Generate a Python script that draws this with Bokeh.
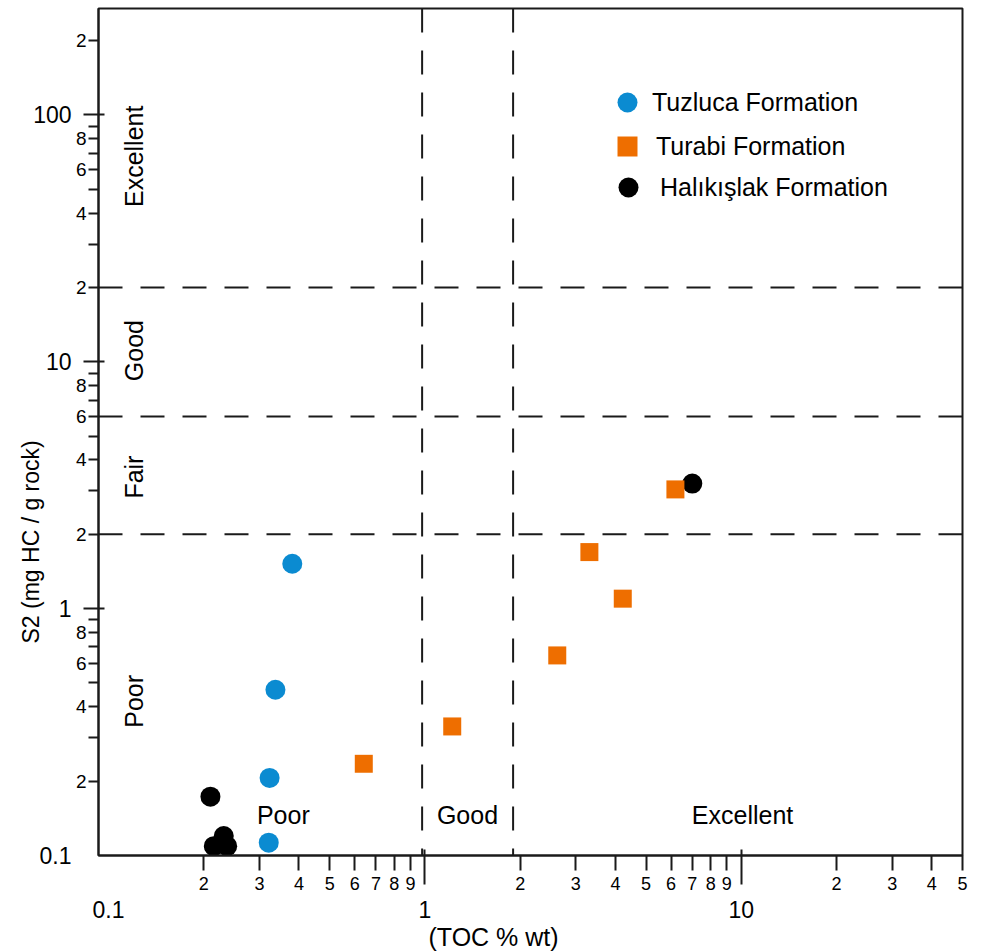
from math import pi

from bokeh.plotting import figure
from bokeh.models import (LogAxis, FixedTicker, Span, Label, Legend, LegendItem,
                          Range1d, Title)
from bokeh.embed import file_html
from bokeh.resources import INLINE

# Rock-Eval pyrolysis results: TOC (wt %) against S2 (mg HC / g rock)
tuzluca_toc = [0.381, 0.337, 0.323, 0.321]
tuzluca_s2 = [1.52, 0.469, 0.206, 0.1126]

turabi_toc = [0.641, 1.22, 2.62, 4.22, 3.31, 6.19]
turabi_s2 = [0.235, 0.333, 0.646, 1.097, 1.694, 3.04]

halikislak_toc = [0.210, 0.2314, 0.2152, 0.2372, 7.00]
halikislak_s2 = [0.173, 0.1197, 0.109, 0.109, 3.21]

# source-rock potential class boundaries
toc_limits = [0.98, 1.9]
s2_limits = [2, 6, 20]

# TOC axis: labelled intermediate ticks, long decade ticks, decade labels
x_ticks = [0.2, 0.3, 0.4, 0.5, 0.6, 0.7, 0.8, 0.9,
           2, 3, 4, 5, 6, 7, 8, 9,
           20, 30, 40, 50]
x_tick_labels = ["2", "3", "4", "5", "6", "7", "8", "9",
                 "2", "3", "4", "5", "6", "7", "8", "9",
                 "2", "3", "4", "5"]
x_long_ticks = [1, 10]
x_decades = [0.1, 1, 10]
x_decade_labels = ["0.1", "1", "10"]

# S2 axis
y_ticks = [0.2, 0.3, 0.4, 0.5, 0.6, 0.7, 0.8, 0.9,
           2, 3, 4, 5, 6, 7, 8, 9,
           20, 30, 40, 50, 60, 70, 80, 90,
           200]
y_tick_labels = ["2", "", "4", "", "6", "", "8", "",
                 "2", "", "4", "", "6", "", "8", "",
                 "2", "", "4", "", "6", "", "8", "",
                 "2"]
y_long_ticks = [1, 10, 100]
y_decades = [0.1, 1, 10, 100]
y_decade_labels = ["0.1", "1", "10", "100"]

FONT = "Liberation Sans"
INK = "#1a1a1a"

p = figure(width=987, height=952, x_axis_type="log", y_axis_type="log",
           x_range=Range1d(0.093, 50), y_range=Range1d(0.0999, 270),
           output_backend="svg", toolbar_location=None, tools="",
           min_border_left=98, min_border_right=25,
           min_border_top=8, min_border_bottom=97)
p.xgrid.visible = False
p.ygrid.visible = False
p.outline_line_color = INK
p.outline_line_width = 2
p.background_fill_color = "white"
p.border_fill_color = "white"


def style_line(a):
    a.axis_line_width = 2
    a.axis_line_color = INK
    a.major_tick_line_width = 2
    a.major_tick_line_color = INK
    a.minor_tick_line_width = 2
    a.minor_tick_line_color = INK


# inner axes: short labelled ticks
xa = p.xaxis[0]
xa.ticker = FixedTicker(ticks=x_ticks, minor_ticks=[])
xa.major_label_overrides = dict(zip(x_ticks, x_tick_labels))
xa.major_tick_out = 15
xa.major_tick_in = 0
xa.major_label_standoff = 6
xa.major_label_text_font = FONT
xa.major_label_text_font_size = "18px"
xa.major_label_text_color = "black"
style_line(xa)

ya = p.yaxis[0]
ya.ticker = FixedTicker(ticks=y_ticks, minor_ticks=[])
ya.major_label_overrides = dict(zip(y_ticks, y_tick_labels))
ya.major_tick_out = 10
ya.major_tick_in = 0
ya.major_label_standoff = 2
ya.major_label_text_font = FONT
ya.major_label_text_font_size = "19px"
ya.major_label_text_color = "black"
style_line(ya)

# outer axes: decade numbers, with the long decade ticks reaching back
# across the inner axis to the frame
xo = LogAxis(ticker=FixedTicker(ticks=x_decades, minor_ticks=x_long_ticks))
xo.major_label_overrides = dict(zip(x_decades, x_decade_labels))
xo.minor_tick_in = 43
xo.minor_tick_out = -8
xo.major_label_standoff = 8

yo = LogAxis(ticker=FixedTicker(ticks=y_decades, minor_ticks=y_long_ticks))
yo.major_label_overrides = dict(zip(y_decades, y_decade_labels))
yo.minor_tick_in = 32
yo.minor_tick_out = -11
yo.major_label_standoff = 1

for a in (xo, yo):
    style_line(a)
    a.axis_line_color = None
    a.major_tick_line_color = None
    a.major_tick_in = 0
    a.major_tick_out = 0
    a.major_label_text_font = FONT
    a.major_label_text_font_size = "23px"
    a.major_label_text_color = "black"
p.add_layout(xo, "below")
p.add_layout(yo, "left")

# axis titles
p.add_layout(Title(text="(TOC % wt)", align="left", offset=330, standoff=1,
                   text_font=FONT, text_font_size="25px",
                   text_font_style="normal", text_color="black"), "below")
p.add_layout(Title(text="S2 (mg HC / g rock)", align="left", offset=212,
                   standoff=-26, text_font=FONT, text_font_size="23px",
                   text_font_style="normal", text_color="black"), "left")

# class boundaries
for v in toc_limits:
    p.add_layout(Span(location=v, dimension="height", line_color=INK,
                      line_width=2, line_dash="24 18"))
for v in s2_limits:
    p.add_layout(Span(location=v, dimension="width", line_color=INK,
                      line_width=2, line_dash="24 18"))

# samples
r_hal = p.scatter(halikislak_toc, halikislak_s2, marker="circle", size=20,
                  fill_color="black", line_color=None)
r_tuz = p.scatter(tuzluca_toc, tuzluca_s2, marker="circle", size=20,
                  fill_color="#0b8bd1", line_color=None)
r_tur = p.scatter(turabi_toc, turabi_s2, marker="square", size=18,
                  fill_color="#ee6e00", line_color=None)

# legend entries, one box per formation
legend_entries = [
    ("Tuzluca Formation", r_tuz, (504, 728), 0),
    ("Turabi Formation", r_tur, (504, 684), 4),
    ("Halıkışlak Formation", r_hal, (505, 643), 7),
]
for name, rend, loc, standoff in legend_entries:
    lg = Legend(items=[LegendItem(label=name, renderers=[rend])], location=loc)
    lg.border_line_color = None
    lg.background_fill_alpha = 0
    lg.padding = 0
    lg.margin = 0
    lg.label_standoff = standoff
    lg.glyph_width = 50
    lg.glyph_height = 50
    lg.label_text_font = FONT
    lg.label_text_font_size = "25px"
    lg.label_text_color = "black"
    p.add_layout(lg)

# potential class names
zone_style = dict(text_font=FONT, text_font_size="25px", text_color="black",
                  text_align="center", text_baseline="middle")
for txt, s2 in [("Excellent", 68), ("Good", 11.1), ("Fair", 3.41), ("Poor", 0.421)]:
    p.add_layout(Label(x=0.12, y=s2, text=txt, angle=pi / 2, **zone_style))
for txt, toc in [("Poor", 0.357), ("Good", 1.363), ("Excellent", 10.09)]:
    p.add_layout(Label(x=toc, y=0.146, text=txt, **zone_style))

open("out.html", "w").write(file_html(p, INLINE))
